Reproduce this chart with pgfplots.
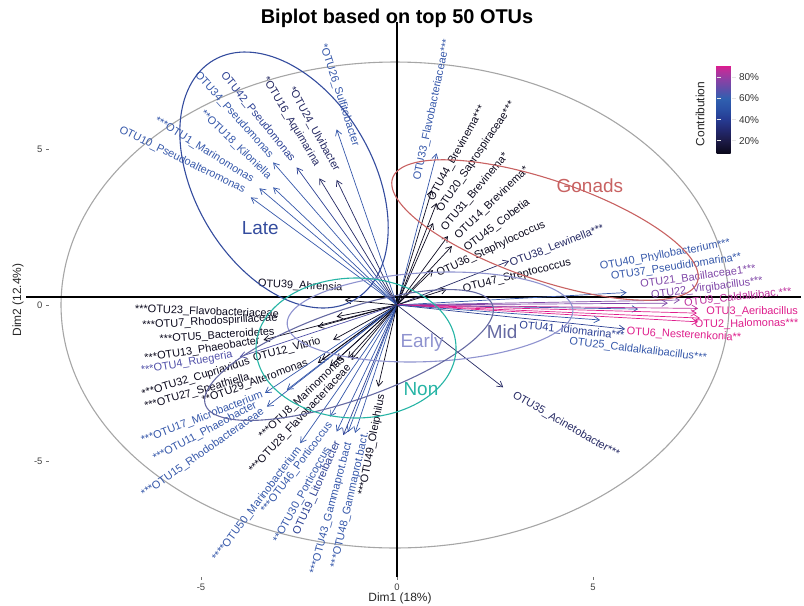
\documentclass[border=0pt]{standalone}
\usepackage{pgfplots}
\pgfplotsset{compat=1.18}
\usepackage{fontspec}
\setmainfont{Liberation Sans}
\usetikzlibrary{arrows.meta,calc}

\definecolor{cK}{RGB}{12,10,30}
\definecolor{cN}{RGB}{38,42,100}
\definecolor{cB1}{RGB}{44,64,148}
\definecolor{cB}{RGB}{54,88,170}
\definecolor{cP1}{RGB}{80,80,168}
\definecolor{cP}{RGB}{128,72,168}
\definecolor{cM1}{RGB}{190,50,158}
\definecolor{cM}{RGB}{222,30,140}
\definecolor{lateC}{RGB}{52,76,158}
\definecolor{gonC}{RGB}{200,98,98}
\definecolor{earlyC}{RGB}{143,147,207}
\definecolor{midC}{RGB}{102,106,162}
\definecolor{nonC}{RGB}{38,180,165}

\newcommand\lbl{\fontsize{11}{13}\selectfont}
\newcommand\grp{\fontsize{19}{22}\selectfont}
% arrow: x y colour label labelx labely rotation
\newcommand{\otu}[7]{%
  \addplot[#3, line width=0.7bp, -{Straight Barb[length=5.5bp,width=6.5bp,line width=0.7bp]}] coordinates {(0,0) (#1,#2)};
  \node[text=#3, rotate=#7, font=\lbl, inner sep=0pt] at (axis cs:#5,#6) {#4};
}
% ellipse: centre (px, rel. origin) semi-axes (px) angle colour
\newcommand{\ellp}[6]{%
  \addplot[#6, line width=1.1bp, domain=0:360, samples=145, smooth]
   ({(#1 + #3*cos(x)*cos(#5) - #4*sin(x)*sin(#5))/39.2},
    {(#2 + #3*cos(x)*sin(#5) + #4*sin(x)*cos(#5))/31.2});
}

\begin{document}
\begin{tikzpicture}
\path[use as bounding box] (0,0) rectangle (804bp,606bp);
\begin{axis}[
  at={(49bp,29bp)}, anchor=south west,
  scale only axis, width=748bp, height=555bp,
  xmin=-8.878, xmax=10.204, ymin=-8.718, ymax=9.071,
  axis line style={draw=none},
  xtick={-5,0,5}, ytick={-5,0,5},
  xtick pos=lower, ytick pos=left,
  tick align=outside, major tick length=3bp,
  tick style={black!55, line width=0.5bp},
  ticklabel style={font=\fontsize{9.5}{11}\selectfont, text=black!75},
  /pgf/number format/assume math mode=true,
  clip=false,
  colormap={contrib}{rgb255(0.76cm)=(8,6,24) rgb255(2cm)=(28,26,70) rgb255(3cm)=(34,40,110) rgb255(4cm)=(38,58,145) rgb255(5cm)=(42,80,165) rgb255(6cm)=(48,96,176) rgb255(6.8cm)=(90,80,170) rgb255(7.8cm)=(140,64,165) rgb255(8.6cm)=(185,48,155) rgb255(9.14cm)=(227,24,140)},
  point meta min=7.6, point meta max=91.4,
  colorbar,
  colorbar style={
    at={($(parent axis.south west)+(659bp,423bp)$)}, anchor=south west,
    width=19bp, height=89bp,
    ytick={20,40,60,80},
    yticklabel={\pgfmathprintnumber{\tick}\%},
    /pgf/number format/assume math mode=true,
    yticklabel style={font=\fontsize{10}{12}\selectfont, text=black!80},
    axis line style={draw=none},
    tick align=inside, major tick length=4bp,
    tick style={white!80!gray, line width=1bp},
  },
]
% correlation circle
\ellp{-2}{0}{334}{243}{0}{black!35}
% reference lines
\addplot[black, line width=1.6bp] coordinates {(-9.46,0.26) (10.3,0.26)};
\addplot[black, line width=1.6bp] coordinates {(0,-8.72) (0,9.07)};

% upper left
\otu{-3.73}{3.45}{cB}{OTU10\_Pseudoalteromonas}{-5.48}{4.65}{-26}
\otu{-3.51}{3.74}{cB}{***OTU1\_Marinomonas}{-4.92}{4.97}{-32}
\otu{-3.16}{3.77}{cB}{**OTU18\_Kiloniella}{-4.11}{5.13}{-44}
\otu{-3.16}{4.57}{cB}{OTU34\_Pseudomonas}{-4.16}{6.09}{-48}
\otu{-2.56}{4.41}{cB1}{OTU42\_Pseudomonas}{-3.55}{6.03}{-51}
\otu{-1.98}{4.06}{cN}{*OTU16\_Aquimarina}{-2.70}{5.87}{-59}
\otu{-1.54}{4.01}{cN}{*OTU24\_Ulvibacter}{-2.12}{5.64}{-61}
\otu{-1.54}{5.63}{cB}{*OTU26\_Sulfitobacter}{-1.47}{6.73}{-72}
% upper right
\otu{1.01}{4.86}{cB}{OTU33\_Flavobacteriaceae***}{0.90}{6.25}{78}
\otu{0.89}{3.69}{cK}{OTU44\_Brevinema***}{1.53}{4.87}{61}
\otu{1.01}{3.27}{cK}{OTU20\_Saprospiraceae***}{2.02}{4.74}{56}
\otu{0.92}{2.63}{cK}{OTU31\_Brevinema*}{1.99}{3.62}{50}
\otu{1.30}{2.21}{cK}{OTU14\_Brevinema*}{2.42}{3.27}{44}
\otu{1.40}{1.89}{cK}{OTU45\_Cobetia}{2.55}{2.56}{37}
\otu{0.92}{1.12}{cK}{OTU36\_Staphylococcus}{2.40}{1.79}{25}
\otu{2.86}{1.41}{cN}{OTU38\_Lewinella***}{4.08}{1.89}{21}
\otu{1.27}{0.51}{cK}{OTU47\_Streptococcus}{3.06}{0.93}{14}
% right
\otu{5.86}{0.40}{cB}{OTU40\_Phyllobacterium***}{6.84}{1.60}{10.5}
\otu{6.15}{-0.13}{cB}{OTU37\_Pseudidiomarina**}{7.12}{1.22}{8.6}
\otu{6.91}{0.06}{cP}{OTU21\_Bacillaceae1***}{7.68}{0.90}{8}
\otu{7.22}{0.16}{cP}{OTU22\_Virgibacillus***}{7.91}{0.54}{7.5}
\otu{7.68}{-0.11}{cM1}{OTU9\_Caldalkibac.***}{8.70}{0.24}{6}
\otu{7.65}{-0.26}{cM}{OTU3\_Aeribacillus}{9.06}{-0.21}{0}
\otu{7.73}{-0.42}{cM}{OTU2\_Halomonas***}{8.92}{-0.61}{1}
\otu{7.68}{-0.54}{cM}{OTU6\_Nesterenkonia**}{7.32}{-0.96}{-3}
\otu{5.82}{-0.77}{cB1}{OTU41\_Idiomarina***}{4.46}{-0.83}{-6}
\otu{5.18}{-0.48}{cB}{OTU25\_Caldalkalibacillus***}{6.15}{-1.44}{-7}
\otu{2.71}{-2.64}{cN}{OTU35\_Acinetobacter***}{4.31}{-3.85}{-30}
% left
\otu{-1.33}{0.16}{cK}{OTU39\_Ahrensia}{-2.47}{0.61}{-3}
\otu{-1.54}{-0.375}{cK}{***OTU23\_Flavobacteriaceae}{-4.85}{-0.22}{-2}
\otu{-2.02}{-0.70}{cK}{***OTU7\_Rhodospirillaceae}{-4.77}{-0.54}{3.4}
\otu{-3.41}{-1.12}{cK}{***OTU5\_Bacteroidetes}{-4.59}{-0.99}{4}
\otu{-1.63}{-1.12}{cK}{***OTU13\_Phaeobacter}{-4.97}{-1.44}{9}
\otu{-4.01}{-1.66}{cP1}{***OTU4\_Ruegeria}{-5.36}{-1.86}{10}
\otu{-1.92}{-1.76}{cK}{***OTU32\_Cupriavidus}{-5.13}{-2.34}{17}
\otu{-1.25}{-1.70}{cK}{OTU12\_Vibrio}{-2.81}{-1.44}{15}
\otu{-2.02}{-1.86}{cK}{***OTU27\_Speathiella}{-5.10}{-2.79}{16}
\otu{-1.71}{-1.96}{cK}{**OTU29\_Alteromonas}{-3.62}{-2.47}{20}
\otu{-2.81}{-2.72}{cB}{***OTU17\_Microbacterium}{-4.97}{-3.62}{21}
\otu{-3.37}{-2.82}{cB}{***OTU11\_Phaeobacter}{-4.90}{-4.07}{28}
\otu{-3.32}{-3.26}{cB}{***OTU15\_Rhodobacteraceae}{-4.95}{-4.74}{35}
\otu{-1.54}{-1.76}{cK}{***OTU8\_Marinomonas}{-2.42}{-2.98}{44}
\otu{-1.16}{-1.76}{cK}{***OTU28\_Flavobacteriaceae}{-2.47}{-3.65}{47}
\otu{-2.47}{-4.43}{cB}{****OTU50\_Marinobacterium}{-3.57}{-6.38}{53}
\otu{-1.71}{-3.58}{cB}{***OTU46\_Porticoccus}{-2.55}{-5.22}{53}
\otu{-1.54}{-4.06}{cB}{**OTU30\_Porticoccus}{-2.42}{-6.09}{61}
\otu{-1.37}{-4.17}{cB1}{OTU19\_Litoreibacter}{-2.04}{-5.87}{66}
\otu{-1.25}{-4.07}{cB}{***OTU43\_Gammaprot.bact}{-1.68}{-6.51}{75}
\otu{-1.07}{-4.10}{cB}{***OTU48\_Gammaprot.bact.}{-1.20}{-6.25}{77}
\otu{-0.48}{-2.62}{cK}{***OTU49\_Oleiphilus}{-0.64}{-4.49}{79}

% concentration ellipses
\ellp{-113}{125}{139}{89}{120.5}{lateC}
\ellp{148}{75}{161}{50}{-18.8}{gonC}
\ellp{33}{-12}{143}{44.5}{2.8}{earlyC}
\ellp{-48}{-50}{152}{45}{19.1}{midC}
\ellp{-41}{-43}{100}{70}{0}{nonC}

\node[text=lateC, font=\grp] at (axis cs:-3.49,2.47) {Late};
\node[text=gonC, font=\grp] at (axis cs:4.92,3.81) {Gonads};
\node[text=earlyC, font=\grp] at (axis cs:0.64,-1.22) {Early};
\node[text=midC, font=\grp] at (axis cs:2.68,-0.87) {Mid};
\node[text=nonC, font=\grp] at (axis cs:0.61,-2.69) {Non};
\end{axis}
\node[font=\fontsize{20}{24}\selectfont\bfseries] at (397bp,588bp) {Biplot based on top 50 OTUs};
\node[font=\fontsize{12}{14}\selectfont, text=black!85] at (400bp,8bp) {Dim1 (18\%)};
\node[font=\fontsize{12}{14}\selectfont, text=black!85, rotate=90] at (18bp,306bp) {Dim2 (12.4\%)};
\node[font=\fontsize{12}{14}\selectfont, text=black!85, rotate=90] at (700bp,492bp) {Contribution};
\end{tikzpicture}
\end{document}
